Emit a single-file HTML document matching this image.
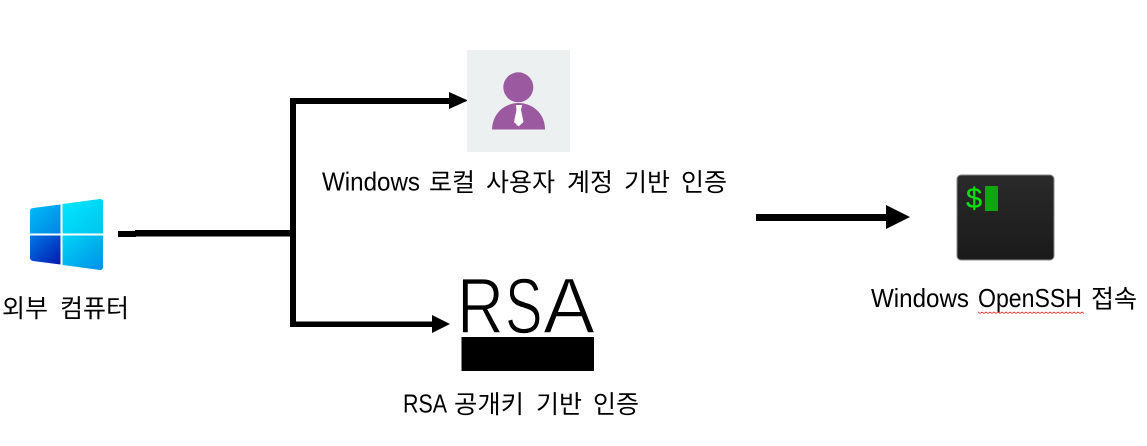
<!DOCTYPE html>
<html><head><meta charset="utf-8"><style>
html,body{margin:0;padding:0;background:#fff;width:1147px;height:446px;overflow:hidden}
svg{display:block}
.k{font-family:"Noto Sans CJK KR","Liberation Sans",sans-serif;font-size:25px;fill:#000}
.l{font-family:"Liberation Sans",sans-serif;font-size:26px;fill:#000}
</style></head><body>
<svg width="1147" height="446" viewBox="0 0 1147 446" xmlns="http://www.w3.org/2000/svg">
<defs>
<linearGradient id="w1" x1="0" y1="0" x2="1" y2="1"><stop offset="0" stop-color="#00bdf6"/><stop offset="1" stop-color="#0085e6"/></linearGradient>
<linearGradient id="w2" x1="0" y1="0" x2="1" y2="1"><stop offset="0" stop-color="#00e8ff"/><stop offset="1" stop-color="#00c4ee"/></linearGradient>
<linearGradient id="w3" x1="0" y1="0" x2="1" y2="1"><stop offset="0" stop-color="#0078e6"/><stop offset="1" stop-color="#0018b0"/></linearGradient>
<linearGradient id="w4" x1="0" y1="0" x2="1" y2="1"><stop offset="0" stop-color="#00d4f8"/><stop offset="1" stop-color="#0090e8"/></linearGradient>
<linearGradient id="tm" x1="0" y1="0" x2="0" y2="1"><stop offset="0" stop-color="#2a2a2a"/><stop offset="1" stop-color="#1a1a1a"/></linearGradient>
</defs>

<!-- Windows logo -->
<path d="M33 208 L60.500 204.500 V233.500 H30 V211 Q30 208.500 33 208Z" fill="url(#w1)"/>
<path d="M62.500 204 L100 199 Q103 199 103 202 V233.500 H62.500Z" fill="url(#w2)"/>
<path d="M30 235.500 H60.500 V264.500 L33 261 Q30 260 30 258Z" fill="url(#w3)"/>
<path d="M62.500 235.500 H103 V267 Q103 270 100 270 L62.500 265Z" fill="url(#w4)"/>

<!-- Connectors -->
<g fill="#000">
<rect x="118" y="231" width="18" height="6"/>
<rect x="135" y="230" width="161" height="6.500"/>
<rect x="290" y="98" width="6" height="229"/>
<rect x="290" y="98" width="160" height="6"/>
<path d="M449 92 L468 100.500 L449 109Z"/>
<rect x="290" y="321.500" width="144" height="5.500"/>
<path d="M432 315 L450 324 L432 333Z"/>
<rect x="756" y="214" width="132" height="7"/>
<path d="M886 205 L910 217 L886 229Z"/>
</g>

<!-- User icon -->
<rect x="467" y="50" width="103" height="102" fill="#ecf0f1"/>
<circle cx="518.300" cy="87.300" r="15" fill="#9b59a0"/>
<path d="M492 129.500 C492.500 113 505 103 518.500 103 C532 103 545 113 545 129.500Z" fill="#9b59a0"/>
<path d="M516 105 H522 L521 110 L523.500 122 L518.500 126.500 L514 122 L516.500 110Z" fill="#fff"/>

<!-- RSA logo -->
<g font-family="Liberation Sans, sans-serif" font-size="79" fill="#000" stroke="#fff" stroke-width="1.500">
<text x="457" y="333" textLength="47" lengthAdjust="spacingAndGlyphs">R</text>
<text x="505" y="333" textLength="37.500" lengthAdjust="spacingAndGlyphs">S</text>
<text x="543" y="333" textLength="52" lengthAdjust="spacingAndGlyphs">A</text>
</g>
<rect x="461.500" y="337" width="132.500" height="34" fill="#000"/>

<!-- Terminal icon -->
<rect x="957" y="175" width="97" height="85" rx="4" fill="url(#tm)" stroke="#8a8a8a" stroke-width="1"/>
<text x="966" y="208" font-family="Liberation Sans, sans-serif" font-size="29" fill="#0be00b" stroke="#0be00b" stroke-width="0.200">$</text>
<rect x="985" y="186" width="13" height="25" fill="#0fa50f"/>

<!-- Labels -->
<text class="k" x="2" y="317">외부</text>
<text class="k" x="60" y="317" textLength="69" lengthAdjust="spacingAndGlyphs">컴퓨터</text>

<text class="l" x="322" y="190.500" textLength="98" lengthAdjust="spacingAndGlyphs">Windows</text>
<text class="k" x="429" y="191">로컬</text>
<text class="k" x="486" y="191" textLength="69" lengthAdjust="spacingAndGlyphs">사용자</text>
<text class="k" x="567" y="191">계정</text>
<text class="k" x="624" y="191">기반</text>
<text class="k" x="681" y="191">인증</text>

<text class="l" x="403" y="412.500" textLength="44" lengthAdjust="spacingAndGlyphs">RSA</text>
<text class="k" x="454" y="413" textLength="70" lengthAdjust="spacingAndGlyphs">공개키</text>
<text class="k" x="536" y="413">기반</text>
<text class="k" x="593" y="413">인증</text>

<text class="l" x="871" y="307" textLength="98" lengthAdjust="spacingAndGlyphs">Windows</text>
<text class="l" x="978" y="307" textLength="104" lengthAdjust="spacingAndGlyphs">OpenSSH</text>
<text class="k" x="1091" y="307.500">접속</text>

<!-- Spell-check squiggle -->
<path d="M978 312 l2 1.500 l2 -1.500 l2 1.500 l2 -1.500 l2 1.500 l2 -1.500 l2 1.500 l2 -1.500 l2 1.500 l2 -1.500 l2 1.500 l2 -1.500 l2 1.500 l2 -1.500 l2 1.500 l2 -1.500 l2 1.500 l2 -1.500 l2 1.500 l2 -1.500 l2 1.500 l2 -1.500 l2 1.500 l2 -1.500 l2 1.500 l2 -1.500 l2 1.500 l2 -1.500 l2 1.500 l2 -1.500 l2 1.500 l2 -1.500 l2 1.500 l2 -1.500 l2 1.500 l2 -1.500 l2 1.500 l2 -1.500 l2 1.500 l2 -1.500 l2 1.500 l2 -1.500 l2 1.500 l2 -1.500 l2 1.500 l2 -1.500 l2 1.500 l2 -1.500 l2 1.500 l2 -1.500 l2 1.500 l2 -1.500 l2 1.500" fill="none" stroke="#e8403a" stroke-width="0.800"/>
</svg>
</body></html>
